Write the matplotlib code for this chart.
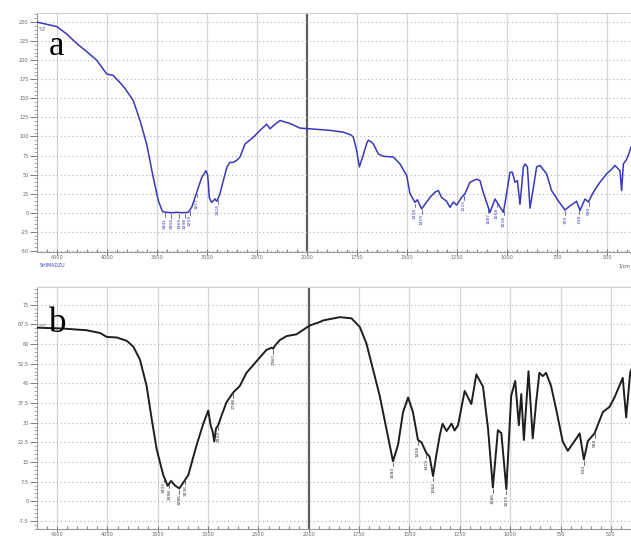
import numpy as np
import matplotlib
matplotlib.use("Agg")
import matplotlib.pyplot as plt
from matplotlib.ticker import FixedLocator, AutoMinorLocator

# spectrum a (blue), wavenumber in 1/cm and %T
wn_a = [4700, 4600, 4500, 4400, 4303, 4200, 4103, 4003, 3937, 3880, 3820, 3737,
        3670, 3603, 3537, 3487, 3450, 3437, 3400, 3350, 3300, 3250, 3187, 3150,
        3120, 3053, 3010, 2995, 2987, 2977, 2965, 2953, 2935, 2920, 2903, 2885,
        2870, 2837, 2800, 2770, 2737, 2700, 2670, 2620, 2537, 2470, 2403, 2385,
        2370, 2337, 2270, 2170, 2070, 1985, 1885, 1818, 1780, 1768, 1752, 1738,
        1722, 1700, 1693, 1680, 1668, 1643, 1618, 1568, 1535, 1502, 1485, 1460,
        1448, 1427, 1402, 1385, 1360, 1343, 1327, 1302, 1285, 1268, 1252, 1227,
        1210, 1185, 1152, 1135, 1118, 1085, 1060, 1043, 1018, 1002, 985, 973,
        960, 948, 935, 918, 910, 898, 885, 868, 852, 835, 802, 777, 742, 710,
        685, 652, 635, 610, 593, 568, 535, 502, 477, 460, 435, 427, 418, 402,
        390, 380]
t_a = [250, 247, 244, 234, 222, 211, 200, 182, 180, 172, 163, 147,
       121, 90, 46, 16, 3, 1, 0.5, 0, 0.5, 0, 0.5, 8,
       20, 46, 55, 50, 40, 20, 16, 13.6, 16, 18, 15, 20,
       25, 42, 60, 66, 66, 69, 73, 90, 99, 108, 116, 113,
       110, 114, 121, 117, 111, 110, 108, 105.6, 102, 99, 82, 60,
       73, 92, 95, 93, 90, 77, 74, 73, 64, 49, 25, 13.6,
       17, 5, 14, 20, 27, 29, 20, 15, 7, 14, 10, 20,
       25, 40, 44, 42, 26, 0.4, 18, 11, 0.4, 25, 53, 53,
       40, 42, 11, 60, 64, 60, 6, 33, 60, 62, 51, 29, 15, 3.5,
       9, 15, 3, 18, 14, 27, 40, 51, 57, 62, 55, 29, 64, 70,
       78, 86]

# spectrum b (black)
wn_b = [4700, 4600, 4437, 4300, 4205, 4073, 4007, 3908, 3808, 3743, 3677, 3611,
        3561, 3512, 3446, 3402, 3369, 3329, 3286, 3247, 3197, 3114, 3048, 2999,
        2975, 2955, 2939, 2922, 2900, 2867, 2817, 2751, 2685, 2619, 2520, 2421,
        2370, 2354, 2340, 2288, 2222, 2123, 1995, 1945, 1929, 1846, 1788, 1747,
        1714, 1681, 1648, 1615, 1582, 1557, 1532, 1507, 1483, 1458, 1441, 1416,
        1400, 1383, 1366, 1350, 1336, 1316, 1291, 1276, 1259, 1226, 1193, 1168,
        1135, 1110, 1086, 1061, 1044, 1019, 995, 975, 957, 945, 932, 909,
        888, 871, 855, 838, 822, 797, 772, 739, 714, 680, 655, 634,
        614, 581, 540, 507, 482, 441, 424, 404, 400]
t_b = [66.25, 66.1, 65.9, 65.5, 65.25, 64.2, 62.7, 62.5, 61.2, 59, 54, 44,
       31.5, 20, 10, 5.9, 7.75, 6, 4.9, 7.1, 10, 21.5, 29.6, 34.6,
       29, 26.5, 22.8, 27.75, 29, 32.7, 37.8, 41.5, 44, 49, 53.4, 57.75,
       58.6, 58.2, 59.2, 61.5, 63, 63.7, 67.1, 68.4, 69, 70.25, 69.8, 66.5,
       60.25, 50.25, 40.25, 27.75, 15.25, 21.5, 34, 39.6, 34, 23.4, 22.5, 18.4,
       17, 9.6, 18, 25, 29.6, 26.8, 29.6, 27, 29, 42.1, 37.1, 48.4,
       43.75, 27.75, 5.25, 27.1, 26, 4.6, 40.25, 45.9, 29, 40.9, 23.4, 49.6,
       24, 37.75, 49, 47.75, 49, 44, 35.25, 22.75, 19.25, 23, 25.9, 15.9,
       23, 25.9, 34, 36, 39.6, 47.1, 32, 49, 50]

# peak labels: (label text, wavenumber)
peaks_a = [("3441", 3420), ("3404", 3355), ("3369", 3275), ("3298", 3220),
           ("3259", 3170), ("3217", 3103), ("2924", 2890),
           ("1458", 1460), ("1419", 1427), ("1215", 1215), ("1087", 1093),
           ("1058", 1050), ("1018", 1016), ("709", 709), ("638", 638), ("590", 590)]
peaks_b = [("3433", 3440), ("3398", 3385), ("3286", 3286), ("3236", 3225),
           ("2924", 2900), ("2748", 2751), ("2360", 2354),
           ("1583", 1582), ("1458", 1458), ("1419", 1416), ("1384", 1383),
           ("1086", 1086), ("1019", 1019), ("634", 634), ("580", 580)]

yt_a = [-50, -25, 0, 25, 50, 75, 100, 125, 150, 175, 200, 225, 250]
yt_b = [-7.5, 0, 7.5, 15, 22.5, 30, 37.5, 45, 52.5, 60, 67.5, 75]
xt = [4500, 4000, 3500, 3000, 2500, 2000, 1750, 1500, 1250, 1000, 750, 500]


def fwd(x):
    x = np.asarray(x, dtype=float)
    return np.where(x > 2000, 2000 + (x - 2000) / 2.0, x)


def inv(y):
    y = np.asarray(y, dtype=float)
    return np.where(y > 2000, 2000 + (y - 2000) * 2.0, y)


fig = plt.figure(figsize=(6.31, 5.39), dpi=100)
ax_a = fig.add_axes([0.0586, 0.5325, 0.9414, 0.4435])
ax_b = fig.add_axes([0.0586, 0.019, 0.9414, 0.4485])


def style(ax, yticks, ylim, xlim, ylabels):
    ax.set_xscale('function', functions=(fwd, inv))
    ax.set_xlim(*xlim)
    ax.set_ylim(*ylim)
    ax.xaxis.set_major_locator(FixedLocator(xt))
    ax.xaxis.set_minor_locator(FixedLocator(
        [v for v in range(4700, 2000, -100) if v % 500] +
        [v for v in range(1950, 350, -50) if v % 250]))
    ax.set_xticklabels([str(v) for v in xt])
    ax.yaxis.set_major_locator(FixedLocator(yticks))
    ax.yaxis.set_minor_locator(AutoMinorLocator(5))
    ax.set_yticklabels(ylabels)
    ax.tick_params(axis='both', which='major', labelsize=3.6, colors='#666666',
                   length=5, width=0.6, pad=1)
    ax.tick_params(axis='y', which='minor', length=2.5, width=0.5, colors='#888888')
    ax.tick_params(axis='x', which='minor', direction='in', length=2,
                   width=0.8, colors='#888888')
    ax.tick_params(axis='x', which='major', direction='inout', length=4, pad=0.5)
    for v in xt:
        if v == 2000:
            ax.axvline(v, color='#606060', lw=1.6, zorder=1)
        else:
            ax.axvline(v, color='#d6d6d6', lw=0.9, zorder=1)
    for v in yticks:
        ax.axhline(v, color='#b0b0b0', lw=0.8, ls=(0, (1, 2.5)), zorder=1)
    for s in ['left', 'bottom', 'top']:
        ax.spines[s].set_color('#9a9a9a')
        ax.spines[s].set_linewidth(0.8)
    ax.spines['top'].set_color('#d0d0d0')
    ax.spines['right'].set_visible(False)


style(ax_a, yt_a, (-51.5, 262), (4700, 380), [str(v) for v in yt_a])
style(ax_b, yt_b, (-10.5, 81.75), (4700, 400),
      ['-7.5', '0', '7.5', '15', '22.5', '30', '37.5', '45', '52.5', '60', '67.5', '75'])

blue = '#3838b8'
ax_a.plot(wn_a, t_a, color=blue, lw=1.1, zorder=3)
ax_b.plot(wn_b, t_b, color='#1e1e1e', lw=1.4, zorder=3)


def peak_labels(ax, peaks, wn, t, color, dy, size):
    for txt, w in peaks:
        yv = np.interp(-w, -np.asarray(wn), np.asarray(t))
        ax.plot([w, w], [yv - dy * 0.3, yv - dy * 1.1], color=color, lw=0.5, zorder=3)
        ax.text(w, yv - dy * 1.2, txt, rotation=90, ha='center', va='top',
                fontsize=size, color=color, zorder=3)


peak_labels(ax_a, peaks_a, wn_a, t_a, blue, 6, 3.2)
peak_labels(ax_b, peaks_b, wn_b, t_b, '#333333', 1.8, 3.2)

ax_a.text(0.015, 0.93, '%T', transform=ax_a.transAxes, fontsize=3.4,
          color='#555555', ha='right', va='center', clip_on=False)
ax_b.text(0.015, 0.835, '%T', transform=ax_b.transAxes, fontsize=3.4,
          color='#555555', ha='right', va='center', clip_on=False)
ax_a.text(0.005, -0.058, 'SHIMADZU', transform=ax_a.transAxes, fontsize=3.4,
          color='#4444cc', ha='left', va='center', clip_on=False)
ax_a.text(0.999, -0.058, '1/cm', transform=ax_a.transAxes, fontsize=3.4,
          color='#555555', ha='right', va='center', clip_on=False)

ax_a.text(0.02, 0.86, 'a', transform=ax_a.transAxes, fontsize=25,
          family='Liberation Serif', va='center', ha='left')
ax_b.text(0.02, 0.85, 'b', transform=ax_b.transAxes, fontsize=25,
          family='Liberation Serif', va='center', ha='left')

fig.savefig('out.png', dpi=100)
